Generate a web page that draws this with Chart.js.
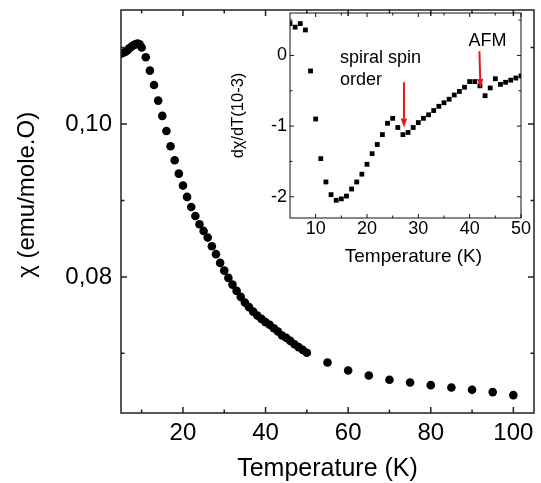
<!DOCTYPE html>
<html>
<head>
<meta charset="utf-8">
<title>chi vs T</title>
<script src="https://cdn.jsdelivr.net/npm/chart.js@4.4.1/dist/chart.umd.min.js"></script>
<style>
  html, body { margin: 0; padding: 0; background: #fff; }
  #wrap { position: relative; width: 541px; height: 483px; }
  #mainChart { position: absolute; left: 0; top: 0; }
  #insetChart { position: absolute; left: 225px; top: 0; }
</style>
</head>
<body>
<div id="wrap">
  <canvas id="mainChart" width="541" height="483"></canvas>
  <canvas id="insetChart" width="316" height="275"></canvas>
</div>
<script>
// main curve: susceptibility vs temperature
const mainTemp = [5, 5.5, 6, 6.5, 7, 7.5, 8, 8.5, 9, 9.5, 10,
  11, 12, 13, 14, 15, 16, 17, 18, 19, 20,
  21, 22, 23, 24, 25, 26, 27, 28, 29, 30,
  31, 32, 33, 34, 35, 36, 37, 38, 39, 40,
  41, 42, 43, 44, 45, 46, 47, 48, 49, 50,
  55, 60, 65, 70, 75, 80, 85, 90, 95, 100];
const mainChi = [0.1092, 0.1093, 0.1094, 0.1096, 0.1099, 0.1101, 0.1103, 0.1104, 0.1105, 0.1104, 0.1100,
  0.10872, 0.10697, 0.10510, 0.10305, 0.10105, 0.09908, 0.09708, 0.09525, 0.09350, 0.09194,
  0.09046, 0.08913, 0.08797, 0.08689, 0.08601, 0.08514, 0.08401, 0.08297, 0.08183, 0.08082,
  0.07987, 0.07899, 0.07817, 0.07739, 0.07664, 0.07604, 0.07546, 0.07494, 0.07451, 0.07408,
  0.07373, 0.07329, 0.07285, 0.07233, 0.07203, 0.07163, 0.07120, 0.07081, 0.07046, 0.07007,
  0.06880, 0.06775, 0.06710, 0.06654, 0.06618, 0.06584, 0.06553, 0.06523, 0.06493, 0.06454];

// inset: derivative dchi/dT (units of 1e-3)
const insetTemp = [5, 6, 7, 8, 9, 10, 11, 12, 13, 14, 15, 16, 17, 18, 19, 20,
  21, 22, 23, 24, 25, 26, 27, 28, 29, 30, 31, 32, 33, 34, 35,
  36, 37, 38, 39, 40, 41, 42, 43, 44, 45, 46, 47, 48, 49, 50];
const insetDeriv = [0.45, 0.40, 0.45, 0.36, -0.22, -0.90, -1.46, -1.79, -1.97, -2.05, -2.03, -1.99, -1.89, -1.79, -1.68, -1.54,
  -1.39, -1.26, -1.12, -0.96, -0.89, -1.02, -1.12, -1.09, -1.02, -0.95, -0.89, -0.84, -0.78, -0.72, -0.67,
  -0.62, -0.56, -0.51, -0.45, -0.37, -0.37, -0.43, -0.57, -0.46, -0.33, -0.41, -0.38, -0.35, -0.32, -0.29];

// tick values
const mainXTicks = [20, 40, 60, 80, 100];
const mainXMinor = [10, 30, 50, 70, 90];
const mainYTicks = [0.08, 0.10];
const mainYMinor = [0.07, 0.09, 0.11];
const insetXTicks = [10, 20, 30, 40, 50];
const insetXMinor = [15, 25, 35, 45];
const insetYTicks = [-2, -1, 0];
const insetYMinor = [-1.5, -0.5, 0.5];

// inset annotations (data coordinates)
const noteTexts = ['spiral spin', 'order', 'AFM'];
const noteX = [14.75, 14.75, 39.76];
const noteY = [-0.108, -0.416, 0.128];
const arrowFrom = [[27.2, -0.38], [41.9, 0.06]];
const arrowTo = [[27.2, -1.02], [42.1, -0.46]];

const FONT = '"Liberation Sans", Arial, Helvetica, sans-serif';
Chart.defaults.font.family = FONT;
Chart.defaults.color = '#000';

// frame on all four sides with inward ticks
const frameTicks = {
  id: 'frameTicks',
  afterDraw(chart, args, o) {
    const {ctx, chartArea: a, scales: {x, y}} = chart;
    ctx.save();
    ctx.strokeStyle = o.color;
    ctx.lineWidth = o.width;
    ctx.beginPath();
    const doX = (vals, len) => vals.forEach(v => {
      const p = x.getPixelForValue(v);
      ctx.moveTo(p, a.bottom); ctx.lineTo(p, a.bottom - len);
      ctx.moveTo(p, a.top); ctx.lineTo(p, a.top + len);
    });
    const doY = (vals, len) => vals.forEach(v => {
      const p = y.getPixelForValue(v);
      ctx.moveTo(a.left, p); ctx.lineTo(a.left + len, p);
      ctx.moveTo(a.right, p); ctx.lineTo(a.right - len, p);
    });
    doX(o.xMajor, o.major); doX(o.xMinor, o.minor);
    doY(o.yMajor, o.major); doY(o.yMinor, o.minor);
    ctx.stroke();
    ctx.strokeRect(a.left, a.top, a.right - a.left, a.bottom - a.top);
    ctx.restore();
  }
};

// labels and red arrows inside the inset
const insetNotes = {
  id: 'insetNotes',
  afterDatasetsDraw(chart) {
    const {ctx, scales: {x, y}} = chart;
    ctx.save();
    ctx.fillStyle = '#000';
    ctx.font = '18px ' + FONT;
    ctx.textBaseline = 'alphabetic';
    noteTexts.forEach((t, i) => {
      ctx.fillText(t, x.getPixelForValue(noteX[i]), y.getPixelForValue(noteY[i]));
    });
    ctx.strokeStyle = '#e8161d';
    ctx.fillStyle = '#e8161d';
    ctx.lineWidth = 2;
    arrowFrom.forEach((f, i) => {
      const x0 = x.getPixelForValue(f[0]), y0 = y.getPixelForValue(f[1]);
      const x1 = x.getPixelForValue(arrowTo[i][0]), y1 = y.getPixelForValue(arrowTo[i][1]);
      const ang = Math.atan2(y1 - y0, x1 - x0);
      const hl = 9, hw = 3.2;
      const bx = x1 - hl * Math.cos(ang), by = y1 - hl * Math.sin(ang);
      ctx.beginPath();
      ctx.moveTo(x0, y0); ctx.lineTo(bx, by);
      ctx.stroke();
      ctx.beginPath();
      ctx.moveTo(x1, y1);
      ctx.lineTo(bx + hw * Math.sin(ang), by - hw * Math.cos(ang));
      ctx.lineTo(bx - hw * Math.sin(ang), by + hw * Math.cos(ang));
      ctx.closePath();
      ctx.fill();
    });
    ctx.restore();
  }
};

const commaLabel = v => v.toFixed(2).replace('.', ',');

// fixed axis sizes, no extra label padding
const fixY = w => s => { s.width = w; s.paddingTop = 0; s.paddingBottom = 0; };
const fixX = h => s => { s.height = h; s.paddingLeft = 0; s.paddingRight = 0; };

new Chart(document.getElementById('mainChart'), {
  type: 'scatter',
  data: {
    datasets: [{
      data: mainTemp.map((t, i) => ({x: t, y: mainChi[i]})),
      pointRadius: 4.3,
      pointBackgroundColor: '#000',
      pointBorderWidth: 0
    }]
  },
  options: {
    responsive: false,
    animation: false,
    layout: {padding: {top: 10, right: 7, left: 0, bottom: 0}},
    plugins: {
      legend: {display: false},
      tooltip: {enabled: false},
      frameTicks: {color: '#222', width: 1.5, major: 6, minor: 3.5,
        xMajor: mainXTicks, xMinor: mainXMinor, yMajor: mainYTicks, yMinor: mainYMinor}
    },
    scales: {
      x: {
        type: 'linear', min: 5, max: 105,
        afterBuildTicks: s => { s.ticks = mainXTicks.map(v => ({value: v})); },
        afterFit: fixX(70),
        grid: {display: false, drawTicks: false},
        border: {display: false},
        ticks: {font: {size: 24}, padding: 6, autoSkip: false, maxRotation: 0},
        title: {display: true, text: 'Temperature (K)', font: {size: 25, lineHeight: 1}, padding: {bottom: 1}}
      },
      y: {
        type: 'linear', min: 0.0622, max: 0.1149,
        afterBuildTicks: s => { s.ticks = mainYTicks.map(v => ({value: v})); },
        afterFit: fixY(121),
        grid: {display: false, drawTicks: false},
        border: {display: false},
        ticks: {font: {size: 24}, padding: 9, callback: commaLabel},
        // leading nbsp nudges the centred title upward, as in the original
        title: {display: true, text: '\u00a0\u00a0\u00a0\u00a0\u00a0χ (emu/mole.O)', font: {size: 24, lineHeight: 1}, padding: {top: 15}}
      }
    }
  },
  plugins: [frameTicks]
});

new Chart(document.getElementById('insetChart'), {
  type: 'scatter',
  data: {
    datasets: [{
      data: insetTemp.map((t, i) => ({x: t, y: insetDeriv[i]})),
      pointStyle: 'rect',
      pointRadius: 3.4,
      pointBackgroundColor: '#000',
      pointBorderWidth: 0
    }]
  },
  options: {
    responsive: false,
    animation: false,
    layout: {padding: {top: 13, right: 20, left: 0, bottom: 0}},
    plugins: {
      legend: {display: false},
      tooltip: {enabled: false},
      frameTicks: {color: '#111', width: 1, major: 4, minor: 2.5,
        xMajor: insetXTicks, xMinor: insetXMinor, yMajor: insetYTicks, yMinor: insetYMinor}
    },
    scales: {
      x: {
        type: 'linear', min: 5, max: 50,
        afterBuildTicks: s => { s.ticks = insetXTicks.map(v => ({value: v})); },
        afterFit: fixX(57),
        grid: {display: false, drawTicks: false},
        border: {display: false},
        ticks: {font: {size: 18}, padding: 0, autoSkip: false, maxRotation: 0},
        title: {display: true, text: '\u00a0\u00a0\u00a0Temperature (K)', font: {size: 19, lineHeight: 1}, padding: {bottom: 8.5}}
      },
      y: {
        type: 'linear', min: -2.3, max: 0.6,
        afterBuildTicks: s => { s.ticks = insetYTicks.map(v => ({value: v})); },
        afterFit: fixY(65),
        grid: {display: false, drawTicks: false},
        border: {display: false},
        ticks: {font: {size: 18}, padding: 3},
        title: {display: true, text: 'dχ/dT(10-3)', font: {size: 16.5, lineHeight: 1}, padding: {top: 5}}
      }
    }
  },
  plugins: [frameTicks, insetNotes]
});
</script>
</body>
</html>
